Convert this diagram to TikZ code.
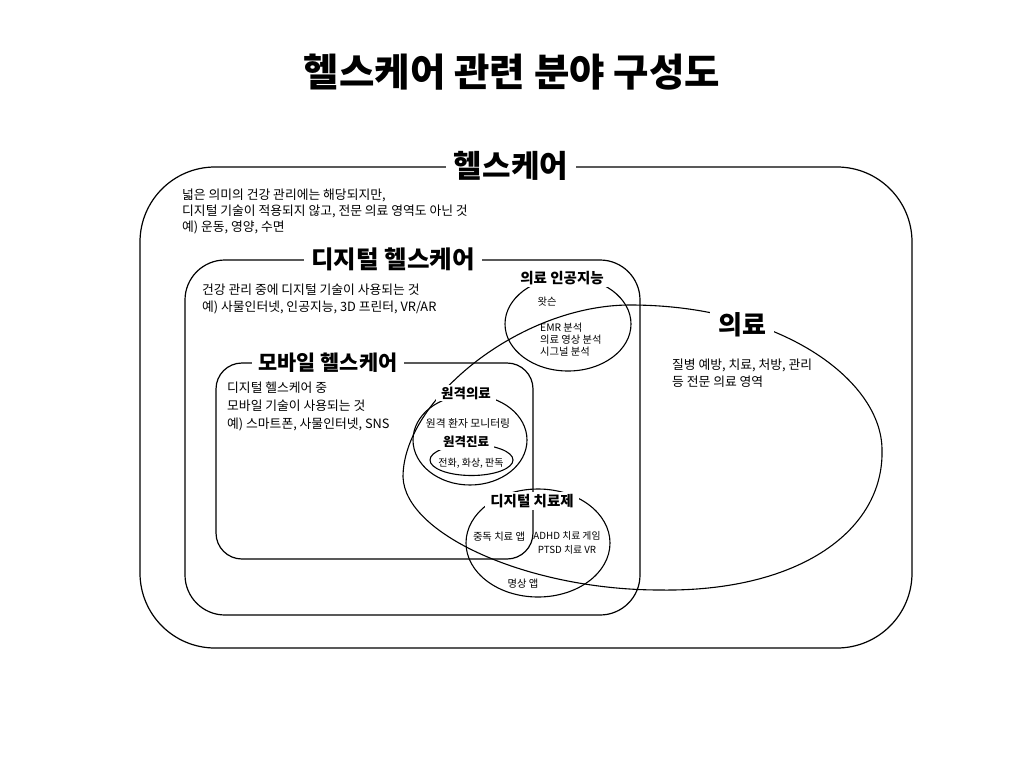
\documentclass[tikz,border=0pt]{standalone}
\usepackage{fontspec}
\setmainfont{Noto Sans CJK KR}
\usetikzlibrary{shapes.geometric, positioning}

\begin{document}
\begin{tikzpicture}[
    x=1pt, y=-1pt,
    every node/.style={inner sep=0pt},
    zone/.style={rectangle, draw=black, line width=1.2pt},
    field/.style={ellipse, draw=black, line width=1.1pt},
    heading/.style={font=\fontsize{38.5}{44}\selectfont\bfseries},
    biglabel/.style={fill=white, inner xsep=8pt, inner ysep=4pt, font=\fontsize{31}{36}\selectfont\bfseries},
    midlabel/.style={fill=white, inner xsep=7pt, inner ysep=3pt, font=\fontsize{24.5}{28}\selectfont\bfseries},
    smalllabel/.style={fill=white, inner xsep=5pt, inner ysep=2pt, font=\fontsize{14.5}{17}\selectfont\bfseries},
    desc/.style={align=left, anchor=north west, font=\fontsize{12.8}{17}\selectfont},
    note/.style={align=center, font=\fontsize{10.3}{12}\selectfont}
]
\useasboundingbox (0,0) rectangle (1024,768);

% Title
\node[heading] (title) at (512,72) {헬스케어 관련 분야 구성도};

% Nested boxes
\node[zone, rounded corners=75pt, minimum width=772pt, minimum height=481pt] (health) at (526,407.5) {};
\node[zone, rounded corners=40pt, minimum width=455pt, minimum height=355pt] (digital) at (412.5,437.5) {};
\node[zone, rounded corners=26pt, minimum width=317pt, minimum height=196pt] (mobile) at (374.5,461) {};

% Medical region (egg-shaped)
\draw[line width=1.1pt] (403,477) .. controls (405,535) and (530,590) .. (660,590)
    .. controls (800,592) and (884,530) .. (882,450)
    .. controls (882,380) and (780,305) .. (630,305)
    .. controls (520,305) and (403,400) .. cycle;

% Ellipses
\node[field, minimum width=126pt, minimum height=94pt] (ai) at (568,324) {};
\node[field, minimum width=114pt, minimum height=90pt] (remote) at (470,440) {};
\node[field, minimum width=83pt, minimum height=31pt] (consult) at (471.5,460) {};
\node[field, minimum width=144pt, minimum height=108pt] (dtx) at (538,543) {};

% Labels
\node[biglabel] (healthlabel) at (511,166) {헬스케어};
\node[midlabel] (digitallabel) at (393,259) {디지털 헬스케어};
\node[midlabel, font=\fontsize{20.8}{24}\selectfont\bfseries] (mobilelabel) at (328,363) {모바일 헬스케어};
\node[biglabel, font=\fontsize{26}{30}\selectfont\bfseries] (medicallabel) at (742,325) {의료};
\node[smalllabel] (ailabel) at (562,278) {의료 인공지능};
\node[smalllabel, font=\fontsize{13.5}{16}\selectfont\bfseries] (remotelabel) at (466,393) {원격의료};
\node[smalllabel, font=\fontsize{12.5}{15}\selectfont\bfseries] (consultlabel) at (466,442) {원격진료};
\node[smalllabel] (dtxlabel) at (532,501) {디지털 치료제};

% Descriptions
\node[desc, font=\fontsize{12.8}{16}\selectfont] (healthtext) at (182,189) {넓은 의미의 건강 관리에는 해당되지만,\\디지털 기술이 적용되지 않고, 전문 의료 영역도 아닌 것\\예) 운동, 영양, 수면};
\node[desc] (digitaltext) at (202,284) {건강 관리 중에 디지털 기술이 사용되는 것\\예) 사물인터넷, 인공지능, 3D 프린터, VR/AR};
\node[desc, font=\fontsize{12.8}{18}\selectfont] (mobiletext) at (227,382) {디지털 헬스케어 중\\모바일 기술이 사용되는 것\\예) 스마트폰, 사물인터넷, SNS};
\node[desc] (medicaltext) at (672,359) {질병 예방, 치료, 처방, 관리\\등 전문 의료 영역};

% Small notes
\node[note] (watson) at (547,302) {왓슨};
\node[note, align=left, anchor=north west] (aitext) at (540,323) {EMR 분석\\의료 영상 분석\\시그널 분석};
\node[note, font=\fontsize{10.8}{13}\selectfont] (monitor) at (468,423) {원격 환자 모니터링};
\node[note, font=\fontsize{10}{12}\selectfont] (phone) at (471,463) {전화, 화상, 판독};
\node[note] (addict) at (499,537) {중독 치료 앱};
\node[note, font=\fontsize{9.8}{14}\selectfont] (game) at (567,543) {ADHD 치료 게임\\PTSD 치료 VR};
\node[note] (meditate) at (523,584) {명상 앱};

\end{tikzpicture}
\end{document}
